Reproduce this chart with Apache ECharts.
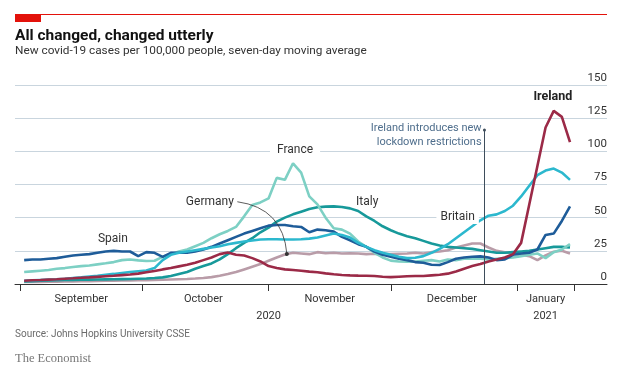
<!DOCTYPE html>
<html><head><meta charset="utf-8">
<script src="https://cdn.jsdelivr.net/npm/echarts@6/dist/echarts.min.js"></script>
<style>html,body{margin:0;padding:0;background:#fff}#c{width:625px;height:379px}</style>
</head><body><div id="c"></div>
<script>
const dates = [
'2020-09-02','2020-09-04','2020-09-06','2020-09-08','2020-09-10','2020-09-12','2020-09-14','2020-09-16','2020-09-18','2020-09-20','2020-09-22','2020-09-24','2020-09-26','2020-09-28','2020-09-30',
'2020-10-02','2020-10-04','2020-10-06','2020-10-08','2020-10-10','2020-10-12','2020-10-14','2020-10-16','2020-10-18','2020-10-20','2020-10-22','2020-10-24','2020-10-26','2020-10-28','2020-10-30',
'2020-11-01','2020-11-03','2020-11-05','2020-11-07','2020-11-09','2020-11-11','2020-11-13','2020-11-15','2020-11-17','2020-11-19','2020-11-21','2020-11-23','2020-11-25','2020-11-27','2020-11-29',
'2020-12-01','2020-12-03','2020-12-05','2020-12-07','2020-12-09','2020-12-11','2020-12-13','2020-12-15','2020-12-17','2020-12-19','2020-12-21','2020-12-23','2020-12-25','2020-12-27','2020-12-29','2020-12-31',
'2021-01-02','2021-01-04','2021-01-06','2021-01-08','2021-01-10','2021-01-12','2021-01-14'];
const spain = [
18,18.5,18.5,19,19.5,20.5,21.5,22,22.5,23.5,24.5,25,24.5,24.5,21,
24,23.5,20.5,23.5,23.5,23.5,24.5,26,28,30.5,33,35.5,38,40,42,
44,44.5,44.5,43.5,43,39,41,40.5,39.5,35.5,33,30,28,24.5,22,
20.5,19,18,16.5,16,14.5,14.3,16.5,19,20,20.5,20.8,20,18,18.5,22,
23,23.5,26,37,38,47.5,58.5];
const france = [
9,9.5,10,10.5,11.5,12,12.8,13.5,14,14.8,15.6,16.5,18,18.5,17.8,
17.3,17.5,20.5,22.5,24.5,26,28.5,31,34.5,37.5,40,43,51,59.5,61.5,
64.5,80,78.5,91,84,66,60,50,42,41,38,32,28,23.5,20,
17.6,17,16.8,17,17.5,18,17,18.5,18,19,19.3,19,18.5,19,19.5,20,
21,22,23,19.5,24,26,30];
const italy = [
2,2.2,2.4,2.6,2.8,3,3,3.2,3.3,3.4,3.5,3.6,3.7,3.8,4,
4.2,4.5,5,6,7.5,9,11.5,13.5,15.5,18.5,22.5,27,31,34.5,39,
42.5,47,50,52.5,54.5,56.5,57.8,58.3,58.5,58,57,55,51,47.5,43.5,
40.5,38,36,34.5,32.5,30.5,29,28,27.5,27,26.5,25.5,24.5,23.5,23.5,24,
24.5,25,26,27,28,28,27.5];
const germany = [
1.5,1.6,1.6,1.7,1.8,1.9,2,2.1,2.2,2.3,2.4,2.5,2.6,2.7,2.8,
2.9,3,3.2,3.4,3.6,3.8,4.1,4.5,5.2,6.2,7.5,9,11,13,15,
17.5,20,22.3,23.5,23,22.5,24,23.2,23.5,23,23.2,23,22.5,22.8,22.5,
22.5,22.8,23,23.5,23,24,24.5,25.5,27.5,29,30.5,30.5,27.5,25,24,23,
22,21,18,21.5,24.3,25,23];
const ireland = [
2.5,2.8,3,3.3,3.6,4,4.3,4.7,5,5.4,5.8,6.2,6.7,7.2,7.8,
8.8,9.8,11,12,13.3,14.5,16,18,20,22.5,23.7,22,21.5,19.5,17,
13.5,12,11,10.5,10,9.3,8.8,8,7.3,6.8,6.5,6.3,6.2,6,5.5,
5.2,5.5,5.8,6,6,6.5,7,7.8,9.5,11.5,13.5,15,17,18.5,20,22.5,
31,60,89,118,130.5,126,107];
const britain = [
2.5,2.7,3,3.3,3.6,4,4.5,5,5.6,6.2,7,7.6,8.3,9,9.6,
10.2,12,18,22,23.5,24.5,25.5,26.5,27.5,28.5,30,31,32,32.8,33.5,
33.7,33.7,33.5,33.5,33.7,34.2,35,36.5,38,37,35,31,28,25.5,23.5,
22,20.5,19.5,19.8,21,23.5,26.5,30,34.5,39,43.5,48,51.5,52.5,55,59,
66,74,82,85.5,87,84,78.5];
const monthTickDates = ['2020-09-01','2020-10-01','2020-11-01','2020-12-01','2021-01-01','2021-01-15'];
const monthLabelDates = ['2020-09-16','2020-10-16','2020-11-16','2020-12-16','2021-01-08'];
const monthLabels = ['September','October','November','December','January'];
const yearLabelDates = ['2020-11-01','2021-01-08'];
const yearLabels = ['2020','2021'];
const lockdownDate = '2020-12-24';

function ts(s){ const p = s.split('-').map(Number); return new Date(p[0], p[1]-1, p[2]).getTime(); }
const H = 3600*1000;
const FONT = 'Roboto, "Noto Sans", sans-serif';
const pairs = arr => dates.map((d,i)=>[ts(d), arr[i]]);
const mLabelTs = monthLabelDates.map(ts);
const yLabelTs = yearLabelDates.map(ts);
const xMin = ts('2020-08-30') + 18*H;
const xMax = ts('2021-01-23') + 2*H;

function lbl(text, x, v, extra){
  return {symbol:'circle', symbolSize:1, itemStyle:{color:'rgba(0,0,0,0)'}, silent:true, animation:false,
    data:[{coord:[x, v]}],
    label:Object.assign({show:true, position:'inside', formatter:text, color:'#333', fontSize:12, fontFamily:FONT}, extra||{})};
}
function line(name, arr, color, extra){
  return Object.assign({type:'line', name, data:pairs(arr), showSymbol:false, symbol:'none',
    lineStyle:{color, width:2.6}, itemStyle:{color}, animation:false, z:2}, extra||{});
}

const chart = echarts.init(document.getElementById('c'), null, {renderer:'canvas'});
chart.setOption({
  animation:false,
  backgroundColor:'#fff',
  title:[
    {text:'All changed, changed utterly', left:15, top:28, padding:0, textStyle:{fontFamily:FONT, fontWeight:'bold', fontSize:15.5, color:'#111'}},
    {text:'New covid-19 cases per 100,000 people, seven-day moving average', left:15, top:45, padding:0, textStyle:{fontFamily:FONT, fontWeight:'normal', fontSize:11.8, color:'#333'}},
    {text:'Source: Johns Hopkins University CSSE', left:15, top:329, padding:0, textStyle:{fontFamily:FONT, fontWeight:'normal', fontSize:10, color:'#6b6b6b'}},
    {text:'The Economist', left:15, top:352, padding:0, textStyle:{fontFamily:'"Liberation Serif", "DejaVu Serif", serif', fontWeight:'normal', fontSize:12.5, color:'#777'}}
  ],
  graphic:[
    {type:'line', shape:{x1:15,y1:14.5,x2:607,y2:14.5}, style:{stroke:'#e3120b', lineWidth:1}},
    {type:'rect', shape:{x:15,y:14,width:26,height:8}, style:{fill:'#e3120b'}}
  ],
  grid:{left:15, right:18, top:85, bottom:95},
  xAxis:[{
    type:'value', min:xMin, max:xMax, position:'bottom',
    axisLine:{show:true, lineStyle:{color:'#333', width:1}},
    axisTick:{show:true, customValues:monthTickDates.map(ts), length:7, lineStyle:{color:'#333'}},
    axisLabel:{show:true, customValues:mLabelTs, margin:10, fontSize:11, color:'#333', fontFamily:FONT,
      formatter:v=>monthLabels[mLabelTs.indexOf(v)]},
    splitLine:{show:false}
  },{
    type:'value', min:xMin, max:xMax, position:'bottom', offset:0,
    axisLine:{show:false}, axisTick:{show:false}, splitLine:{show:false},
    axisLabel:{show:true, customValues:yLabelTs, margin:27, fontSize:11, color:'#333', fontFamily:FONT,
      formatter:v=>yearLabels[yLabelTs.indexOf(v)]}
  }],
  yAxis:{
    type:'value', min:0, max:150, interval:25, position:'right',
    axisLine:{show:false}, axisTick:{show:false},
    splitLine:{show:true, lineStyle:{color:'#c9d5de', width:1}},
    axisLabel:{inside:true, margin:0, align:'right', verticalAlign:'bottom', padding:[0,0,1,0], fontSize:11.5, color:'#333', fontFamily:FONT}
  },
  series:[
    line('Germany', germany, '#b99ca8', {markPoint:lbl('Germany', ts('2020-10-17')+14*H, 62)}),
    line('Italy', italy, '#17999a', {markPoint:lbl('Italy', ts('2020-11-25')+5*H, 62)}),
    line('France', france, '#7dd0c4', {markPoint:lbl('France', ts('2020-11-07')+12*H, 100.8, {backgroundColor:'#fff', padding:[1,7]})}),
    line('Spain', spain, '#1e5c99', {markPoint:lbl('Spain', ts('2020-09-23')+19*H, 34)}),
    line('Britain', britain, '#2cb8ce', {markPoint:lbl('Britain', ts('2020-12-17')+10*H, 50.5, {backgroundColor:'#fff', padding:[1,4]})}),
    line('Ireland', ireland, '#9b2a47', {
      z:3,
      markPoint:{symbol:'circle', symbolSize:1, itemStyle:{color:'rgba(0,0,0,0)'}, silent:true, animation:false,
        data:[
          {coord:[ts('2021-01-09')+19*H, 141], label:{show:true, position:'inside', formatter:'Ireland', fontWeight:'bold', color:'#222', fontSize:12.5, fontFamily:FONT}},
          {coord:[ts('2020-12-23')+22*H, 112], label:{show:true, position:'left', distance:2, align:'right', formatter:'Ireland introduces new\nlockdown restrictions', lineHeight:13.5, color:'#4f6e8c', fontSize:11, fontFamily:FONT}}
        ]},
      markLine:{silent:true, animation:false, symbol:['none','circle'], symbolSize:3, label:{show:false},
        lineStyle:{color:'#3e4d5b', width:1, type:'solid'},
        data:[[{coord:[ts(lockdownDate), 0]},{coord:[ts(lockdownDate), 116]}]]}
    }),
    {type:'lines', coordinateSystem:'cartesian2d', xAxisIndex:0, yAxisIndex:0, silent:true, animation:false, z:4,
      symbol:['none','circle'], symbolSize:4,
      lineStyle:{color:'#333', width:0.8, type:'solid', curveness:0.4, opacity:1},
      itemStyle:{color:'#333'},
      data:[{coords:[[ts('2020-10-24')+8*H, 62],[ts('2020-11-05')+12*H, 22.6]]}]}
  ]
});
</script></body></html>
